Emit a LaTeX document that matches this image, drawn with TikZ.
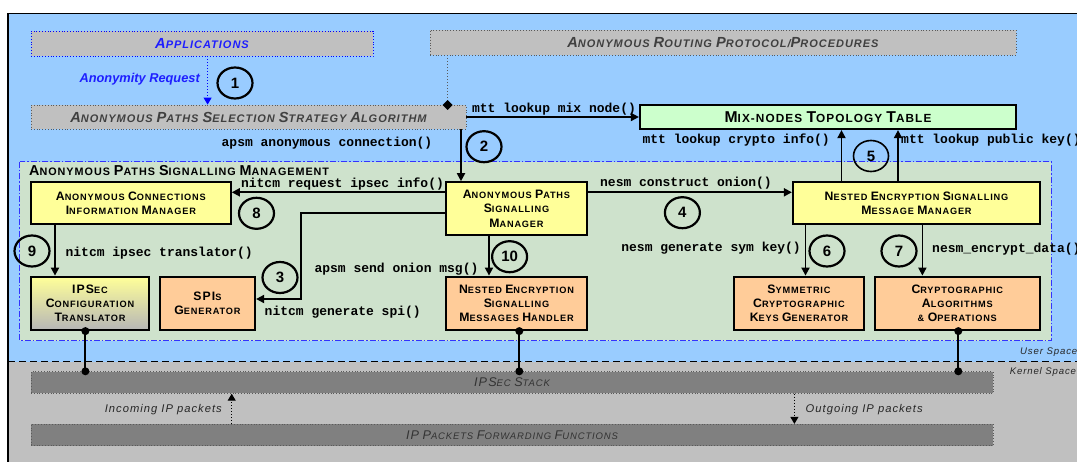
\documentclass[tikz,border=0pt]{standalone}
\usepackage{fontspec}
\setmainfont{Liberation Sans}
\newfontfamily\capf[LetterSpace=9]{Liberation Sans}
\newfontfamily\monof{Liberation Mono}
\usetikzlibrary{arrows.meta,shapes.geometric}
\definecolor{bgblue}{RGB}{153,204,255}
\definecolor{kgray}{RGB}{192,192,192}
\definecolor{dgray}{RGB}{128,128,128}
\definecolor{regfill}{RGB}{206,226,204}
\definecolor{ybox}{RGB}{255,255,153}
\definecolor{obox}{RGB}{255,204,153}
\definecolor{gbox}{RGB}{204,255,204}
\definecolor{txtgray}{RGB}{64,64,64}
\definecolor{appblue}{RGB}{30,30,255}
\definecolor{dotcol}{RGB}{90,90,90}
\newcommand\Bg[1]{\scalebox{1.33}{#1}}
\newcommand\bx[7]{\node[#2, minimum width={#5-#3}, minimum height={#6-#4}] (#1) at ({(#3+#5)/2},{(#4+#6)/2}) {#7};}
\begin{document}
\begin{tikzpicture}[x=1pt,y=-1pt,
  box/.style={draw=black, line width=2.2pt, align=center, inner sep=0pt, font=\capf\bfseries\fontsize{9.2}{14.3}\selectfont},
  ybx/.style={box, fill=ybox},
  obx/.style={box, fill=obox},
  gbx/.style={draw=dotcol, dotted, line width=0.8pt, fill=kgray, inner sep=0pt, font=\capf\bfseries\itshape\fontsize{11}{12}\selectfont, text=txtgray},
  kbx/.style={draw=dotcol, dotted, line width=0.8pt, fill=dgray, inner sep=0pt, font=\capf\itshape\fontsize{9.5}{12}\selectfont, text=black!80},
  conn/.style={line width=1.8pt, -{Triangle[length=8pt,width=8pt]}},
  lbl/.style={font=\monof\bfseries\fontsize{13}{13}\selectfont, inner sep=0pt},
  num/.style={draw, ellipse, line width=2.2pt, minimum width=35pt, minimum height=31pt, inner sep=0pt, font=\bfseries\fontsize{15}{15}\selectfont},
  jdot/.style={circle, fill=black, inner sep=0pt, minimum size=8pt},
  ital/.style={font=\capf\itshape\fontsize{11.2}{12}\selectfont, text=black!85, inner sep=0pt}]
\useasboundingbox (0,0) rectangle (1077,461);
\clip (0,0) rectangle (1077,461);
\fill[white] (0,0) rectangle (1077,461);
\fill[bgblue] (8,13.5) rectangle (1090,361.5);
\fill[kgray] (8,361.5) rectangle (1090,470);
\draw[line width=1.5pt] (8,470) -- (8,13.5) -- (1090,13.5);
\draw[line width=1.5pt, dash pattern=on 7pt off 4pt] (8,361.5) -- (1077,361.5);
% region
\draw[draw=blue!80, fill=regfill, line width=0.9pt, dash pattern=on 6pt off 2pt on 1.5pt off 2pt] (19.6,161.7) rectangle (1051,340.7);
\node[anchor=west, inner sep=0pt, font=\capf\bfseries\fontsize{10.8}{12}\selectfont] (title) at (29,170.5) {\Bg{A}NONYMOUS \Bg{P}ATHS \Bg{S}IGNALLING \Bg{M}ANAGEMENT};
% top boxes
\bx{app}{gbx, draw=blue, text=appblue}{31}{31}{373}{56}{\Bg{A}PPLICATIONS}
\bx{arp}{gbx}{430}{30}{1016}{55}{\Bg{A}NONYMOUS \Bg{R}OUTING \Bg{P}ROTOCOL/\Bg{P}ROCEDURES}
\bx{apssa}{gbx}{31}{105}{466}{129}{\Bg{A}NONYMOUS \Bg{P}ATHS \Bg{S}ELECTION \Bg{S}TRATEGY \Bg{A}LGORITHM}
\bx{mix}{box, fill=gbox, font=\capf\bfseries\fontsize{11.8}{12}\selectfont}{640}{105}{1016}{129}{\Bg{M}IX-NODES \Bg{T}OPOLOGY \Bg{T}ABLE}
% middle boxes
\bx{acim}{ybx}{31}{182.3}{230.7}{224}{\Bg{A}NONYMOUS \Bg{C}ONNECTIONS\\\Bg{I}NFORMATION \Bg{M}ANAGER}
\bx{apsm}{ybx}{446}{182.3}{587}{235}{\Bg{A}NONYMOUS \Bg{P}ATHS\\\Bg{S}IGNALLING\\\Bg{M}ANAGER}
\bx{nesmm}{ybx}{793}{182.3}{1040}{224}{\Bg{N}ESTED \Bg{E}NCRYPTION \Bg{S}IGNALLING\\\Bg{M}ESSAGE \Bg{M}ANAGER}
% lower boxes
\bx{ipct}{box, top color=ybox, bottom color=kgray!95!black}{31}{276.7}{149}{330}{\Bg{IPS}EC\\\Bg{C}ONFIGURATION\\\Bg{T}RANSLATOR}
\bx{spi}{obx}{160}{276.7}{255}{330}{\Bg{SPI}S\\\Bg{G}ENERATOR}
\bx{nesmh}{obx}{446}{276.7}{587}{330}{\Bg{N}ESTED \Bg{E}NCRYPTION\\\Bg{S}IGNALLING\\\Bg{M}ESSAGES \Bg{H}ANDLER}
\bx{sckg}{obx}{734}{276.7}{864}{330}{\Bg{S}YMMETRIC\\\Bg{C}RYPTOGRAPHIC\\\Bg{K}EYS \Bg{G}ENERATOR}
\bx{cao}{obx}{874.6}{276.7}{1040}{330}{\Bg{C}RYPTOGRAPHIC\\\Bg{A}LGORITHMS\\\& \Bg{O}PERATIONS}
% kernel boxes
\bx{stack}{kbx}{31}{371.7}{993}{393.3}{\Bg{IPS}EC \Bg{S}TACK}
\bx{ipf}{kbx}{31}{424.3}{993}{445.7}{\Bg{IP} \Bg{P}ACKETS \Bg{F}ORWARDING \Bg{F}UNCTIONS}
% helper coordinates
\coordinate (xa) at (207.6,0);
\coordinate (xd) at (447.6,0);
\coordinate (x2) at (461,0);
\coordinate (ymix) at (0,117);
\coordinate (yh) at (0,192.3);
\coordinate (yspi) at (0,213.3);
\coordinate (yspb) at (0,299);
\coordinate (xspi) at (301,0);
\coordinate (x9) at (55,0);
\coordinate (x10) at (489,0);
\coordinate (x5a) at (841.5,0);
\coordinate (x5b) at (898,0);
\coordinate (x6) at (805.5,0);
\coordinate (x7) at (922.4,0);
\coordinate (xk1) at (85.4,0);
\coordinate (xk2) at (519.3,0);
\coordinate (xk3) at (958.3,0);
\coordinate (xin) at (231.7,0);
\coordinate (xout) at (794.4,0);
% connectors
\draw[blue, dotted, line width=1pt, -{Triangle[length=7pt,width=8pt]}] (app.south -| xa) -- (apssa.north -| xa);
\node[diamond, fill=black, minimum size=10pt, inner sep=0pt] (dia) at (447.6,105) {};
\draw[dotcol, dotted, line width=1pt] (arp.south -| xd) -- (dia);
\draw[conn] (apssa.east |- ymix) -- (mix.west |- ymix);
\draw[conn] (apssa.south -| x2) -- (apsm.north -| x2);
\draw[conn] (apsm.west |- yh) -- (acim.east |- yh);
\draw[conn] (apsm.east |- yh) -- (nesmm.west |- yh);
\draw[conn] (apsm.west |- yspi) -- (xspi |- yspi) -- (xspi |- yspb) -- (spi.east |- yspb);
\draw[conn] (acim.south -| x9) -- (ipct.north -| x9);
\draw[conn] (apsm.south -| x10) -- (nesmh.north -| x10);
\draw[conn] (nesmm.north -| x5a) -- (mix.south -| x5a);
\draw[conn] (nesmm.north -| x5b) -- (mix.south -| x5b);
\draw[conn] (nesmm.south -| x6) -- (sckg.north -| x6);
\draw[conn] (nesmm.south -| x7) -- (cao.north -| x7);
% kernel links
\node[jdot] (d1a) at (ipct.south -| xk1) {};
\node[jdot] (d1b) at (stack.north -| xk1) {};
\node[jdot] (d2a) at (nesmh.south -| xk2) {};
\node[jdot] (d2b) at (stack.north -| xk2) {};
\node[jdot] (d3a) at (cao.south -| xk3) {};
\node[jdot] (d3b) at (stack.north -| xk3) {};
\draw[line width=2pt] (d1a.center) -- (d1b.center);
\draw[line width=2pt] (d2a.center) -- (d2b.center);
\draw[line width=2pt] (d3a.center) -- (d3b.center);
\draw[dotted, line width=1pt, -{Triangle[length=7pt,width=8pt]}] (ipf.north -| xin) -- (stack.south -| xin);
\draw[dotted, line width=1pt, -{Triangle[length=7pt,width=8pt]}] (stack.south -| xout) -- (ipf.north -| xout);
% labels
\node[anchor=east, inner sep=0pt, text=appblue, font=\bfseries\itshape\fontsize{12.8}{13}\selectfont] (lreq) at (200,79.3) {Anonymity Request};
\node[lbl] (l1) at (554,109) {mtt lookup mix node()};
\node[lbl] (l2) at (327,142.7) {apsm anonymous connection()};
\node[lbl, anchor=east] (l3) at (830,140) {mtt lookup crypto info()};
\node[lbl, anchor=west] (l4) at (901,140) {mtt lookup public key()};
\node[lbl] (l5) at (342.5,184.5) {nitcm request ipsec info()};
\node[lbl] (l6) at (686,183.3) {nesm construct onion()};
\node[lbl, anchor=west] (l7) at (65.4,252.7) {nitcm ipsec translator()};
\node[lbl, anchor=west] (l8) at (264.5,311.7) {nitcm generate spi()};
\node[lbl, anchor=east] (l9) at (478.6,269.3) {apsm send onion msg()};
\node[lbl, anchor=east] (l10) at (801,248.3) {nesm generate sym key()};
\node[lbl, anchor=west] (l11) at (932,249) {nesm\_encrypt\_data()};
\node[ital, anchor=east] (lin) at (222,410) {Incoming IP packets};
\node[ital, anchor=west] (lout) at (805.5,410) {Outgoing IP packets};
\node[ital, anchor=west, font=\capf\itshape\fontsize{9.6}{11}\selectfont] (lus) at (1020,351.7) {User Space};
\node[ital, anchor=west, font=\capf\itshape\fontsize{9.6}{11}\selectfont] (lks) at (1009.6,372.3) {Kernel Space};
% numbers
\node[num] (n1) at (235,83) {1};
\node[num] (n2) at (484,146.7) {2};
\node[num] (n3) at (280,277.5) {3};
\node[num] (n4) at (682.4,212.7) {4};
\node[num, line width=1.6pt] (n5) at (871,156) {5};
\node[num] (n6) at (827,251) {6};
\node[num] (n7) at (899,251) {7};
\node[num] (n8) at (256.5,213.3) {8};
\node[num] (n9) at (32,251) {9};
\node[num] (n10) at (509.6,256.7) {10};
\end{tikzpicture}
\end{document}
